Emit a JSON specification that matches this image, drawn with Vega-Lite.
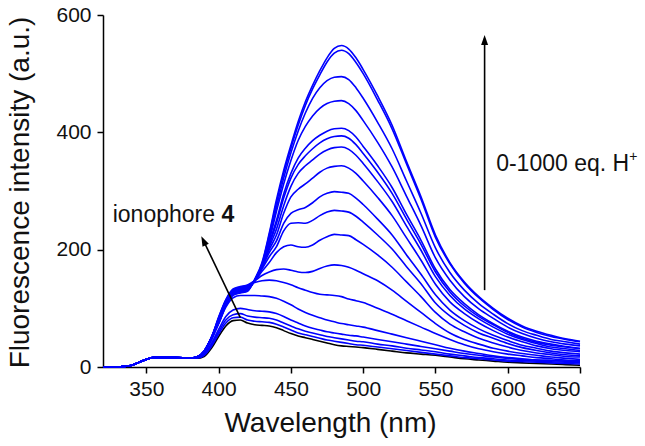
{
"$schema":"https://vega.github.io/schema/vega-lite/v6.json",
"width":477,"height":352,
"autosize":{"type":"none"},
"padding":{"left":103,"top":15,"right":65,"bottom":79},
"background":"white",
"config":{"view":{"stroke":null},"font":"Liberation Sans",
"axis":{"grid":false,"domainColor":"#000","domainWidth":1.5,"tickColor":"#000","tickWidth":1.5,"tickSize":6,"labelFont":"Liberation Sans","labelFontSize":21,"labelColor":"#111","titleFont":"Liberation Sans","titleFontSize":28,"titleFontWeight":"normal","titleColor":"#111"}},
"datasets":{"spectra":[
{"w":320,"c0":0,"c1":0,"c2":0,"c3":0,"c4":0,"c5":0,"c6":0,"c7":0,"c8":0,"c9":0,"c10":0,"c11":0,"c12":0,"c13":0,"c14":0,"c15":0,"c16":0,"c17":0},
{"w":330,"c0":0,"c1":0,"c2":0,"c3":0,"c4":0,"c5":0,"c6":0,"c7":0,"c8":0,"c9":0,"c10":0,"c11":0,"c12":0,"c13":0,"c14":0,"c15":0,"c16":0,"c17":0},
{"w":335,"c0":1,"c1":1,"c2":1,"c3":1,"c4":1,"c5":1,"c6":1,"c7":1,"c8":1,"c9":1,"c10":1,"c11":1,"c12":1,"c13":1,"c14":1,"c15":1,"c16":1,"c17":1},
{"w":340,"c0":3,"c1":3,"c2":3,"c3":3,"c4":3,"c5":3,"c6":3,"c7":3,"c8":3,"c9":3,"c10":3,"c11":3,"c12":3,"c13":3,"c14":3,"c15":3,"c16":3,"c17":3},
{"w":345,"c0":8,"c1":8,"c2":8,"c3":8,"c4":8,"c5":8,"c6":8,"c7":8,"c8":8,"c9":8,"c10":8,"c11":8,"c12":8,"c13":8,"c14":8,"c15":8,"c16":8,"c17":8},
{"w":350,"c0":13,"c1":13,"c2":13,"c3":13,"c4":13,"c5":13,"c6":13,"c7":13,"c8":13,"c9":13,"c10":13,"c11":13,"c12":13,"c13":13,"c14":13,"c15":13,"c16":13,"c17":13},
{"w":355,"c0":16,"c1":16,"c2":16,"c3":16,"c4":16,"c5":16,"c6":16,"c7":16,"c8":16,"c9":16,"c10":16,"c11":16,"c12":16,"c13":16,"c14":16,"c15":16,"c16":16,"c17":16},
{"w":360,"c0":16,"c1":16,"c2":16,"c3":16,"c4":16,"c5":16,"c6":16,"c7":16,"c8":16,"c9":16,"c10":16,"c11":16,"c12":16,"c13":16,"c14":16,"c15":16,"c16":16,"c17":16},
{"w":370,"c0":16,"c1":16,"c2":16,"c3":16,"c4":16,"c5":16,"c6":16,"c7":16,"c8":16,"c9":16,"c10":16,"c11":16,"c12":16,"c13":16,"c14":16,"c15":16,"c16":16,"c17":16},
{"w":380,"c0":15,"c1":15,"c2":15,"c3":15,"c4":15,"c5":15,"c6":15,"c7":15,"c8":15,"c9":15,"c10":15,"c11":15,"c12":15,"c13":15,"c14":15,"c15":15,"c16":15,"c17":15},
{"w":385,"c0":15,"c1":15,"c2":16,"c3":16,"c4":16,"c5":17,"c6":17,"c7":17,"c8":17,"c9":17,"c10":17,"c11":17,"c12":17,"c13":17,"c14":17,"c15":17,"c16":17,"c17":17},
{"w":390,"c0":18,"c1":20,"c2":21,"c3":22,"c4":24,"c5":26,"c6":27,"c7":27,"c8":27,"c9":27,"c10":27,"c11":27,"c12":27,"c13":27,"c14":27,"c15":27,"c16":27,"c17":27},
{"w":395,"c0":32,"c1":35,"c2":38,"c3":40,"c4":45,"c5":48,"c6":50,"c7":50,"c8":50,"c9":50,"c10":50,"c11":50,"c12":50,"c13":50,"c14":50,"c15":50,"c16":50,"c17":50},
{"w":400,"c0":52,"c1":56,"c2":60,"c3":64,"c4":74,"c5":80,"c6":85,"c7":84,"c8":83,"c9":82,"c10":81,"c11":80,"c12":79,"c13":78,"c14":77,"c15":76,"c16":75,"c17":74},
{"w":405,"c0":70,"c1":75,"c2":80,"c3":86,"c4":102,"c5":112,"c6":115,"c7":114,"c8":113,"c9":112,"c10":111,"c11":110,"c12":109,"c13":108,"c14":107,"c15":106,"c16":105,"c17":104},
{"w":410,"c0":79,"c1":84,"c2":89,"c3":97,"c4":118,"c5":130,"c6":133,"c7":132,"c8":131,"c9":130,"c10":129,"c11":128,"c12":127,"c13":126,"c14":125,"c15":124,"c16":123,"c17":122},
{"w":415,"c0":80,"c1":85,"c2":91,"c3":100,"c4":122,"c5":135,"c6":137,"c7":136,"c8":135,"c9":134,"c10":133,"c11":132,"c12":131,"c13":130,"c14":129,"c15":128,"c16":127,"c17":126},
{"w":420,"c0":75,"c1":80,"c2":87,"c3":98,"c4":122,"c5":139,"c6":140,"c7":139,"c8":138,"c9":137,"c10":136,"c11":135,"c12":134,"c13":133,"c14":132,"c15":131,"c16":130,"c17":129},
{"w":425,"c0":72,"c1":78,"c2":85,"c3":96,"c4":122,"c5":144,"c6":147,"c7":147,"c8":147,"c9":147,"c10":147,"c11":147,"c12":147,"c13":147,"c14":148,"c15":148,"c16":149,"c17":150},
{"w":430,"c0":71,"c1":77,"c2":84,"c3":95,"c4":121,"c5":147,"c6":156,"c7":163,"c8":167,"c9":169,"c10":170,"c11":171,"c12":172,"c13":173,"c14":174,"c15":175,"c16":176,"c17":178},
{"w":435,"c0":70,"c1":76,"c2":83,"c3":94,"c4":120,"c5":148,"c6":162,"c7":178,"c8":188,"c9":195,"c10":200,"c11":204,"c12":208,"c13":211,"c14":215,"c15":220,"c16":225,"c17":228},
{"w":440,"c0":67,"c1":73,"c2":80,"c3":91,"c4":117,"c5":147,"c6":166,"c7":195,"c8":205,"c9":215,"c10":225,"c11":235,"c12":245,"c13":250,"c14":265,"c15":272,"c16":280,"c17":285},
{"w":445,"c0":62,"c1":68,"c2":75,"c3":86,"c4":112,"c5":144,"c6":167,"c7":205,"c8":232,"c9":245,"c10":262,"c11":275,"c12":288,"c13":295,"c14":312,"c15":322,"c16":330,"c17":335},
{"w":450,"c0":57,"c1":63,"c2":70,"c3":80,"c4":106,"c5":140,"c6":165,"c7":208,"c8":245,"c9":262,"c10":290,"c11":308,"c12":322,"c13":330,"c14":352,"c15":365,"c16":373,"c17":378},
{"w":455,"c0":53,"c1":58,"c2":65,"c3":75,"c4":99,"c5":135,"c6":162,"c7":205,"c8":246,"c9":268,"c10":303,"c11":330,"c12":345,"c13":356,"c14":386,"c15":402,"c16":412,"c17":418},
{"w":460,"c0":50,"c1":55,"c2":61,"c3":70,"c4":93,"c5":131,"c6":161,"c7":204,"c8":245,"c9":272,"c10":312,"c11":343,"c12":360,"c13":373,"c14":410,"c15":433,"c16":446,"c17":452},
{"w":465,"c0":47,"c1":52,"c2":58,"c3":66,"c4":88,"c5":127,"c6":163,"c7":208,"c8":250,"c9":280,"c10":322,"c11":353,"c12":372,"c13":386,"c14":428,"c15":458,"c16":474,"c17":480},
{"w":470,"c0":44,"c1":49,"c2":55,"c3":63,"c4":84,"c5":124,"c6":168,"c7":216,"c8":258,"c9":290,"c10":332,"c11":363,"c12":382,"c13":395,"c14":441,"c15":476,"c16":498,"c17":505},
{"w":475,"c0":41,"c1":46,"c2":52,"c3":60,"c4":80,"c5":123,"c6":172,"c7":222,"c8":264,"c9":296,"c10":339,"c11":370,"c12":389,"c13":402,"c14":449,"c15":488,"c16":520,"c17":527},
{"w":480,"c0":38,"c1":44,"c2":50,"c3":58,"c4":77,"c5":122,"c6":174,"c7":226,"c8":267,"c9":299,"c10":342,"c11":374,"c12":393,"c13":406,"c14":453,"c15":494,"c16":535,"c17":543},
{"w":485,"c0":36,"c1":42,"c2":48,"c3":56,"c4":74,"c5":120,"c6":173,"c7":225,"c8":266,"c9":298,"c10":343,"c11":375,"c12":394,"c13":407,"c14":454,"c15":495,"c16":540,"c17":548},
{"w":490,"c0":35,"c1":40,"c2":46,"c3":54,"c4":72,"c5":116,"c6":170,"c7":224,"c8":264,"c9":296,"c10":339,"c11":371,"c12":390,"c13":403,"c14":449,"c15":490,"c16":534,"c17":542},
{"w":495,"c0":34,"c1":38,"c2":44,"c3":53,"c4":70,"c5":113,"c6":165,"c7":217,"c8":257,"c9":288,"c10":330,"c11":361,"c12":379,"c13":392,"c14":437,"c15":476,"c16":519,"c17":527},
{"w":500,"c0":33,"c1":37,"c2":43,"c3":51,"c4":68,"c5":110,"c6":159,"c7":209,"c8":247,"c9":277,"c10":317,"c11":347,"c12":364,"c13":376,"c14":420,"c15":458,"c16":500,"c17":507},
{"w":510,"c0":30,"c1":34,"c2":39,"c3":47,"c4":62,"c5":100,"c6":147,"c7":191,"c8":225,"c9":252,"c10":289,"c11":316,"c12":332,"c13":343,"c14":383,"c15":417,"c16":455,"c17":462},
{"w":520,"c0":27,"c1":31,"c2":36,"c3":43,"c4":56,"c5":90,"c6":131,"c7":170,"c8":201,"c9":225,"c10":258,"c11":282,"c12":296,"c13":306,"c14":341,"c15":372,"c16":406,"c17":412},
{"w":530,"c0":24,"c1":28,"c2":32,"c3":39,"c4":50,"c5":79,"c6":112,"c7":145,"c8":171,"c9":191,"c10":220,"c11":240,"c12":252,"c13":260,"c14":291,"c15":317,"c16":346,"c17":350},
{"w":540,"c0":22,"c1":25,"c2":29,"c3":35,"c4":44,"c5":68,"c6":93,"c7":120,"c8":142,"c9":158,"c10":182,"c11":199,"c12":209,"c13":216,"c14":241,"c15":262,"c16":286,"c17":290},
{"w":550,"c0":20,"c1":22,"c2":26,"c3":31,"c4":38,"c5":57,"c6":74,"c7":93,"c8":109,"c9":123,"c10":141,"c11":154,"c12":162,"c13":167,"c14":186,"c15":203,"c16":221,"c17":225},
{"w":560,"c0":17,"c1":19,"c2":22,"c3":27,"c4":32,"c5":47,"c6":58,"c7":73,"c8":87,"c9":97,"c10":111,"c11":122,"c12":128,"c13":132,"c14":148,"c15":161,"c16":176,"c17":178},
{"w":570,"c0":14,"c1":16,"c2":19,"c3":23,"c4":27,"c5":38,"c6":47,"c7":60,"c8":71,"c9":79,"c10":91,"c11":99,"c12":104,"c13":108,"c14":120,"c15":131,"c16":143,"c17":145},
{"w":580,"c0":12,"c1":14,"c2":16,"c3":20,"c4":23,"c5":31,"c6":39,"c7":49,"c8":58,"c9":65,"c10":75,"c11":82,"c12":86,"c13":89,"c14":99,"c15":108,"c16":118,"c17":120},
{"w":590,"c0":10,"c1":12,"c2":14,"c3":17,"c4":19,"c5":26,"c6":32,"c7":41,"c8":49,"c9":54,"c10":62,"c11":68,"c12":72,"c13":74,"c14":83,"c15":90,"c16":98,"c17":100},
{"w":600,"c0":8,"c1":10,"c2":12,"c3":15,"c4":16,"c5":22,"c6":27,"c7":34,"c8":40,"c9":45,"c10":51,"c11":56,"c12":59,"c13":61,"c14":68,"c15":74,"c16":81,"c17":83},
{"w":610,"c0":7,"c1":9,"c2":11,"c3":13,"c4":14,"c5":19,"c6":23,"c7":28,"c8":33,"c9":37,"c10":43,"c11":47,"c12":49,"c13":51,"c14":57,"c15":62,"c16":68,"c17":70},
{"w":620,"c0":6,"c1":8,"c2":10,"c3":12,"c4":12,"c5":16,"c6":20,"c7":24,"c8":28,"c9":32,"c10":36,"c11":40,"c12":42,"c13":44,"c14":49,"c15":54,"c16":59,"c17":61},
{"w":630,"c0":5,"c1":7,"c2":9,"c3":11,"c4":11,"c5":14,"c6":17,"c7":21,"c8":24,"c9":27,"c10":31,"c11":34,"c12":37,"c13":39,"c14":43,"c15":47,"c16":52,"c17":54},
{"w":640,"c0":4,"c1":6,"c2":8,"c3":10,"c4":10,"c5":12,"c6":15,"c7":18,"c8":21,"c9":24,"c10":28,"c11":31,"c12":34,"c13":35,"c14":39,"c15":43,"c16":47,"c17":48},
{"w":650,"c0":3,"c1":5,"c2":7,"c3":8,"c4":9,"c5":11,"c6":13,"c7":17,"c8":19,"c9":22,"c10":26,"c11":28,"c12":31,"c13":32,"c14":36,"c15":39,"c16":43,"c17":44}
]},
"layer":[
{"data":{"name":"spectra"},
 "mark":{"type":"line","color":"#000000","strokeWidth":1.6,"interpolate":"monotone"},
 "encoding":{
  "x":{"field":"w","type":"quantitative","scale":{"domain":[320,650],"nice":false,"zero":false},
       "axis":{"values":[350,400,450,500,550,600,650],"title":"Wavelength (nm)","labelPadding":5,"titleX":227,"titleY":64,"titleBaseline":"alphabetic","titleAnchor":null,"titleAlign":"center"}},
  "y":{"field":"c0","type":"quantitative","scale":{"domain":[0,600],"nice":false},
       "axis":{"values":[0,200,400,600],"title":"Fluorescence intensity (a.u.)","labelPadding":6,"titleX":-75,"titleY":177,"titleAngle":-90,"titleBaseline":"alphabetic","titleAlign":"center"}}}},
{"data":{"name":"spectra"},
 "transform":[{"fold":["c1","c2","c3","c4","c5","c6","c7","c8","c9","c10","c11","c12","c13","c14","c15","c16","c17"],"as":["curve","I"]}],
 "mark":{"type":"line","color":"#0000ff","strokeWidth":1.6,"interpolate":"monotone"},
 "encoding":{"x":{"field":"w","type":"quantitative"},"y":{"field":"I","type":"quantitative"},"detail":{"field":"curve","type":"nominal"}}},
{"data":{"values":[{"x1":584,"y1":131,"x2":584,"y2":560},{"x1":415,"y1":84,"x2":389,"y2":218}]},
 "mark":{"type":"rule","color":"#000000","strokeWidth":1.6},
 "encoding":{"x":{"field":"x1","type":"quantitative"},"y":{"field":"y1","type":"quantitative"},"x2":{"field":"x2"},"y2":{"field":"y2"}}},
{"data":{"values":[{"x":584,"y":566}]},
 "mark":{"type":"point","shape":"M0,0L0.35,1L-0.35,1Z","size":400,"filled":true,"color":"#000000","opacity":1,"angle":0},
 "encoding":{"x":{"field":"x","type":"quantitative"},"y":{"field":"y","type":"quantitative"}}},
{"data":{"values":[{"x":388,"y":223}]},
 "mark":{"type":"point","shape":"M0,0L0.35,1L-0.35,1Z","size":400,"filled":true,"color":"#000000","opacity":1,"angle":334},
 "encoding":{"x":{"field":"x","type":"quantitative"},"y":{"field":"y","type":"quantitative"}}},
{"data":{"values":[{"x":326.7,"y":247,"t":"ionophore"}]},
 "mark":{"type":"text","align":"left","baseline":"alphabetic","fontSize":23,"font":"Liberation Sans","color":"#111"},
 "encoding":{"x":{"field":"x","type":"quantitative"},"y":{"field":"y","type":"quantitative"},"text":{"field":"t"}}},
{"data":{"values":[{"x":402,"y":247,"t":"4"}]},
 "mark":{"type":"text","align":"left","baseline":"alphabetic","fontSize":23,"fontWeight":"bold","font":"Liberation Sans","color":"#111"},
 "encoding":{"x":{"field":"x","type":"quantitative"},"y":{"field":"y","type":"quantitative"},"text":{"field":"t"}}},
{"data":{"values":[{"x":592,"y":334.5,"t":"0-1000 eq. H"}]},
 "mark":{"type":"text","align":"left","baseline":"alphabetic","fontSize":23,"font":"Liberation Sans","color":"#111"},
 "encoding":{"x":{"field":"x","type":"quantitative"},"y":{"field":"y","type":"quantitative"},"text":{"field":"t"}}},
{"data":{"values":[{"x":592,"y":334.5,"t":"+"}]},
 "mark":{"type":"text","align":"left","baseline":"alphabetic","fontSize":14,"font":"Liberation Sans","color":"#111","dx":133,"dy":-10},
 "encoding":{"x":{"field":"x","type":"quantitative"},"y":{"field":"y","type":"quantitative"},"text":{"field":"t"}}}
]
}
